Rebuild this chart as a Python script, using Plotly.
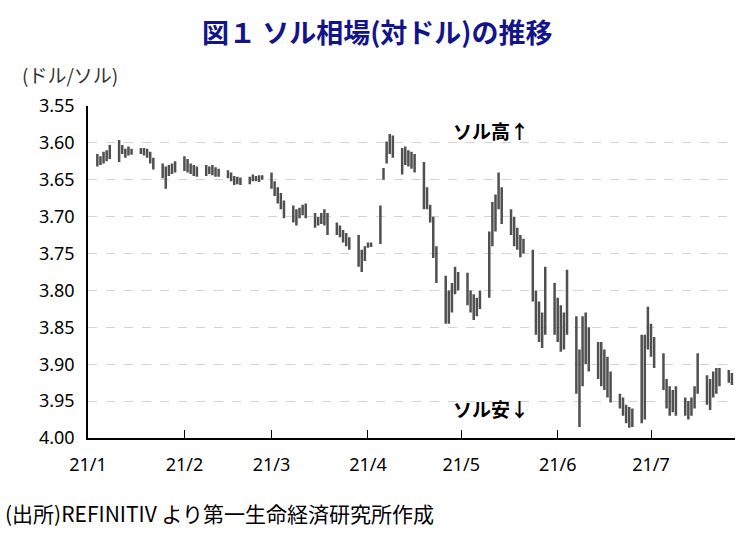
import pandas as pd
import plotly.graph_objects as go

# Trading days (weekdays) Jan 4 - Jul 27, 2021
dates = pd.bdate_range("2021-01-04", "2021-07-27")

# Daily range of PEN per USD: strongest (min) and weakest (max) value, plus close
lo = [
    3.615, 3.618, 3.612, 3.610, 3.603,   # Jan 4-8
    3.596, 3.603, 3.608, 3.605, 3.608,   # Jan 11-15
    3.607, 3.607, 3.608, 3.612, 3.620,   # Jan 18-22
    3.628, 3.632, 3.630, 3.628, 3.625,   # Jan 25-29
    3.618, 3.622, 3.628, 3.630, 3.632,   # Feb 1-5
    3.630, 3.632, 3.630, 3.633, 3.635,   # Feb 8-12
    3.637, 3.640, 3.645, 3.646, 3.647,   # Feb 15-19
    3.646, 3.643, 3.645, 3.644, 3.644,   # Feb 22-26
    3.640, 3.652, 3.660, 3.668, 3.678,   # Mar 1-5
    3.685, 3.690, 3.688, 3.684, 3.682,   # Mar 8-12
    3.695, 3.700, 3.695, 3.690, 3.695,   # Mar 15-19
    3.708, 3.712, 3.718, 3.722, 3.728,   # Mar 22-26
    3.725, 3.745, 3.740, 3.735, 3.735,   # Mar 29-Apr 2
    3.685, 3.634, 3.598, 3.588, 3.590,   # Apr 5-9
    3.607, 3.605, 3.610, 3.612, 3.615,   # Apr 12-16
    3.626, 3.660, 3.684, 3.700, 3.740,   # Apr 19-23
    3.780, 3.800, 3.790, 3.768, 3.775,   # Apr 26-30
    3.776, 3.800, 3.805, 3.810, 3.800,   # May 3-7
    3.720, 3.680, 3.670, 3.640, 3.660,   # May 10-14
    3.690, 3.700, 3.715, 3.725, 3.730,   # May 17-21
    3.745, 3.800, 3.815, 3.830, 3.768,   # May 24-28
    3.790, 3.810, 3.820, 3.830, 3.772,   # May 31-Jun 4
    3.835, 3.880, 3.835, 3.830, 3.850,   # Jun 7-11
    3.870, 3.870, 3.880, 3.890, 3.910,   # Jun 14-18
    3.940, 3.945, 3.955, 3.958, 3.960,   # Jun 21-25
    3.860, 3.860, 3.822, 3.845, 3.863,   # Jun 28-Jul 2
    3.885, 3.920, 3.930, 3.935, 3.930,   # Jul 5-9
    3.945, 3.950, 3.945, 3.930, 3.885,   # Jul 12-16
    3.915, 3.920, 3.910, 3.905, 3.905,   # Jul 19-23
    3.908, 3.912,                        # Jul 26-27
]
hi = [
    3.632, 3.630, 3.628, 3.625, 3.622,
    3.626, 3.615, 3.620, 3.617, 3.616,
    3.615, 3.617, 3.620, 3.628, 3.636,
    3.648, 3.662, 3.645, 3.642, 3.640,
    3.638, 3.640, 3.642, 3.645, 3.646,
    3.645, 3.642, 3.644, 3.646, 3.646,
    3.648, 3.652, 3.657, 3.656, 3.657,
    3.656, 3.652, 3.652, 3.653, 3.650,
    3.662, 3.672, 3.682, 3.690, 3.702,
    3.708, 3.712, 3.702, 3.698, 3.702,
    3.715, 3.712, 3.710, 3.712, 3.725,
    3.725, 3.728, 3.735, 3.740, 3.745,
    3.768, 3.775, 3.760, 3.742, 3.741,
    3.737, 3.650, 3.628, 3.615, 3.620,
    3.643, 3.630, 3.632, 3.635, 3.640,
    3.690, 3.690, 3.708, 3.756, 3.790,
    3.845, 3.845, 3.830, 3.805, 3.800,
    3.820, 3.830, 3.840, 3.835, 3.825,
    3.810, 3.740, 3.720, 3.690, 3.710,
    3.725, 3.740, 3.745, 3.755, 3.750,
    3.815, 3.860, 3.870, 3.878, 3.860,
    3.860, 3.870, 3.883, 3.880, 3.860,
    3.940, 3.985, 3.930, 3.900, 3.910,
    3.920, 3.930, 3.935, 3.945, 3.952,
    3.960, 3.970, 3.980, 3.986, 3.985,
    3.980, 3.975, 3.880, 3.890, 3.905,
    3.935, 3.960, 3.970, 3.965, 3.970,
    3.970, 3.975, 3.970, 3.960, 3.940,
    3.955, 3.962, 3.945, 3.940, 3.930,
    3.925, 3.928,
]
close = [
    3.625, 3.625, 3.620, 3.618, 3.610,
    3.605, 3.610, 3.612, 3.610, 3.612,
    3.610, 3.612, 3.615, 3.620, 3.630,
    3.640, 3.645, 3.640, 3.635, 3.632,
    3.630, 3.630, 3.635, 3.638, 3.640,
    3.636, 3.637, 3.635, 3.640, 3.640,
    3.640, 3.645, 3.652, 3.652, 3.653,
    3.650, 3.648, 3.648, 3.649, 3.647,
    3.655, 3.665, 3.672, 3.680, 3.690,
    3.695, 3.700, 3.695, 3.690, 3.695,
    3.705, 3.705, 3.700, 3.700, 3.712,
    3.715, 3.720, 3.725, 3.732, 3.735,
    3.750, 3.760, 3.745, 3.738, 3.738,
    3.700, 3.640, 3.610, 3.600, 3.605,
    3.620, 3.615, 3.620, 3.625, 3.628,
    3.660, 3.675, 3.700, 3.740, 3.775,
    3.830, 3.835, 3.810, 3.785, 3.790,
    3.800, 3.815, 3.825, 3.820, 3.810,
    3.750, 3.700, 3.690, 3.670, 3.680,
    3.710, 3.720, 3.730, 3.740, 3.740,
    3.800, 3.830, 3.850, 3.855, 3.840,
    3.830, 3.840, 3.850, 3.860, 3.840,
    3.900, 3.930, 3.880, 3.860, 3.880,
    3.900, 3.910, 3.900, 3.920, 3.935,
    3.950, 3.960, 3.970, 3.975, 3.975,
    3.900, 3.880, 3.850, 3.870, 3.880,
    3.920, 3.940, 3.950, 3.950, 3.955,
    3.960, 3.965, 3.955, 3.945, 3.920,
    3.935, 3.940, 3.930, 3.925, 3.920,
    3.915, 3.920,
]

y_ticks = [3.55, 3.60, 3.65, 3.70, 3.75, 3.80, 3.85, 3.90, 3.95, 4.00]
month_ticks = ["2021-01-01", "2021-02-01", "2021-03-01", "2021-04-01",
               "2021-05-01", "2021-06-01", "2021-07-01"]
month_labels = ["21/1", "21/2", "21/3", "21/4", "21/5", "21/6", "21/7"]

title_text = "図１ ソル相場(対ドル)の推移"
unit_text = "(ドル/ソル)"
up_text = "ソル高↑"
down_text = "ソル安↓"
source_text = "(出所)REFINITIV より第一生命経済研究所作成"

JP = "Noto Sans CJK JP"
BAR = "#505050"

fig = go.Figure(go.Ohlc(
    x=dates, open=close, high=hi, low=lo, close=close,
    increasing=dict(line=dict(color=BAR, width=2.5)),
    decreasing=dict(line=dict(color=BAR, width=2.5)),
    tickwidth=0.25, hoverinfo="skip", showlegend=False,
))

L, R, T, B = 88, 16, 106, 99
W, H = 751, 537
pw, ph = W - L - R, H - T - B


def px_x(x):
    return (x - L) / pw


def px_y(y):
    return 1 - (y - T) / ph


def note(text, x, y, size, xanchor="center", color="#000000", bold=False):
    f = dict(family=JP, size=size, color=color)
    if bold:
        f["weight"] = "bold"
    return dict(text=text, x=px_x(x), y=px_y(y), xref="paper", yref="paper",
                xanchor=xanchor, yanchor="middle", showarrow=False, font=f)


fig.update_layout(
    width=W, height=H,
    margin=dict(l=L, r=R, t=T, b=B),
    paper_bgcolor="white", plot_bgcolor="white",
    font=dict(family=JP, color="#000000"),
    showlegend=False,
    xaxis=dict(
        type="date",
        range=["2021-01-01", "2021-07-28"],
        rangeslider=dict(visible=False),
        tickvals=month_ticks, ticktext=month_labels,
        ticks="inside", ticklen=8, tickwidth=1, tickcolor="#000000",
        showline=True, linecolor="#000000", linewidth=1.5,
        showgrid=False, zeroline=False,
        tickfont=dict(family="Noto Sans", size=18, color="#000000"),
        ticklabelstandoff=10,
    ),
    yaxis=dict(
        range=[4.00, 3.55],
        tickvals=y_ticks, tickformat=".2f",
        showline=True, linecolor="#000000", linewidth=1.5,
        showgrid=True, gridcolor="#d4d4d4", griddash="dash", gridwidth=1,
        zeroline=False, ticks="",
        tickfont=dict(family="Noto Sans", size=18, color="#000000"),
        ticklabelstandoff=8,
    ),
    annotations=[
        note(title_text, 377, 31, 27, color="#14148a", bold=True),
        note(unit_text, 20, 75, 19, xanchor="left", color="#333333"),
        note(up_text, 491, 130, 19, bold=True),
        note(down_text, 491, 408, 19, bold=True),
        note(source_text, 3, 513, 21, xanchor="left"),
    ],
)

fig.write_html("out.html")
